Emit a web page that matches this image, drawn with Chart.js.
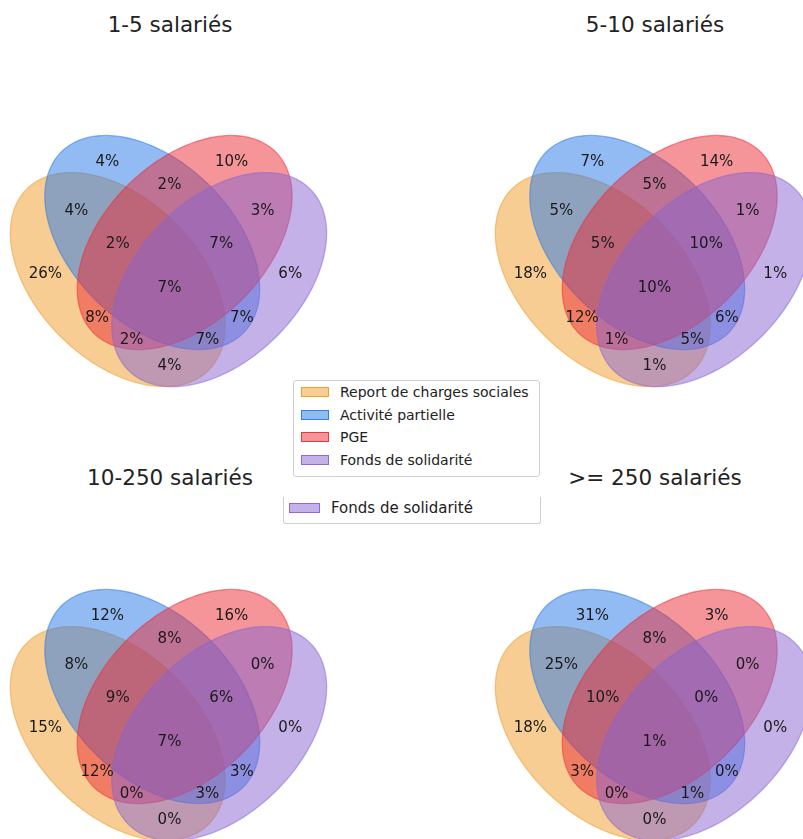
<!DOCTYPE html>
<html>
<head>
<meta charset="utf-8">
<script src="https://cdn.jsdelivr.net/npm/chart.js@4"></script>
<style>
  body { margin: 0; width: 803px; height: 839px; overflow: hidden; background: #fff; position: relative; font-family: "DejaVu Sans", sans-serif; }
  canvas { position: absolute; }
  .title { position: absolute; width: 300px; text-align: center; font-size: 21.5px; color: #222; line-height: 24px; }
  .legend { position: absolute; background: #fff; border: 1px solid #d0d0d0; border-radius: 3px; font-size: 14px; color: #222; }
  .legend .row { position: absolute; left: 0; height: 20px; line-height: 20px; white-space: nowrap; }
  .legend .patch { position: absolute; top: 5px; width: 26px; height: 8px; border: 1px solid; }
  .legend .lbl { position: absolute; top: 0; }
</style>
</head>
<body>
<canvas id="c1" width="345" height="371" style="left:-3px;top:57px"></canvas>
<canvas id="c2" width="345" height="371" style="left:482px;top:57px"></canvas>
<canvas id="c3" width="345" height="371" style="left:-3px;top:511px"></canvas>
<canvas id="c4" width="345" height="371" style="left:482px;top:511px"></canvas>

<div class="title" style="left:20px;top:13px">1-5 salariés</div>
<div class="title" style="left:505px;top:13px">5-10 salariés</div>
<div class="title" style="left:20px;top:466px">10-250 salariés</div>
<div class="title" style="left:505px;top:466px">&gt;= 250 salariés</div>

<div class="legend" id="legend2" style="left:283px;top:497px;width:256px;height:26px;border-top:none;border-radius:0 0 3px 3px;font-size:15px"></div>
<div class="legend" id="legend1" style="left:293px;top:380px;width:245px;height:95px"></div>

<script>
// set names and region order (bits: orange, blue, red, purple)
const setNames = ["Report de charges sociales", "Activité partielle", "PGE", "Fonds de solidarité"];
const regions = ["1000", "0100", "0010", "0001", "1100", "1010", "1001", "0110", "0101", "0011", "1110", "1101", "1011", "0111", "1111"];

const titles = ["1-5 salariés", "5-10 salariés", "10-250 salariés", ">= 250 salariés"];

// percentages per region, same order as regions
const values1to5 = [26, 4, 10, 6, 4, 8, 4, 2, 7, 3, 2, 7, 2, 7, 7];
const values5to10 = [18, 7, 14, 1, 5, 12, 1, 5, 6, 1, 5, 5, 1, 10, 10];
const values10to250 = [15, 12, 16, 0, 8, 12, 0, 8, 3, 0, 9, 3, 0, 6, 7];
const values250plus = [18, 31, 3, 0, 25, 3, 0, 8, 0, 0, 10, 1, 0, 0, 1];

// layout of the 4-set venn (axes units 0..1)
const labelPos = {
    "0001": [0.85, 0.42], "0010": [0.68, 0.72], "0011": [0.77, 0.59], "0100": [0.32, 0.72],
    "0101": [0.71, 0.30], "0110": [0.50, 0.66], "0111": [0.65, 0.50], "1000": [0.14, 0.42],
    "1001": [0.50, 0.17], "1010": [0.29, 0.30], "1011": [0.39, 0.24], "1100": [0.23, 0.59],
    "1101": [0.61, 0.24], "1110": [0.35, 0.50], "1111": [0.50, 0.38]
};
const ellipses = [
    { x: 0.350, y: 0.400, w: 0.72, h: 0.45, a: 140 },
    { x: 0.450, y: 0.500, w: 0.72, h: 0.45, a: 140 },
    { x: 0.544, y: 0.500, w: 0.72, h: 0.45, a: 40 },
    { x: 0.644, y: 0.400, w: 0.72, h: 0.45, a: 40 }
];
const colors = ["rgba(240,155,40,0.5)", "rgba(40,120,232,0.5)", "rgba(236,44,54,0.5)", "rgba(136,100,210,0.5)"];

const vennPlugin = {
    id: "venn",
    beforeDatasetsDraw(chart) {
        const ctx = chart.ctx;
        const xs = chart.scales.x, ys = chart.scales.y;
        ellipses.forEach((e, i) => {
            const rad = e.a * Math.PI / 180;
            ctx.save();
            ctx.beginPath();
            for (let k = 0; k <= 200; k++) {
                const t = k / 200 * 2 * Math.PI;
                const u = e.w / 2 * Math.cos(t), v = e.h / 2 * Math.sin(t);
                const dx = e.x + u * Math.cos(rad) - v * Math.sin(rad);
                const dy = e.y + u * Math.sin(rad) + v * Math.cos(rad);
                const px = xs.getPixelForValue(dx), py = ys.getPixelForValue(dy);
                if (k === 0) ctx.moveTo(px, py); else ctx.lineTo(px, py);
            }
            ctx.closePath();
            ctx.fillStyle = colors[i];
            ctx.fill();
            ctx.strokeStyle = colors[i];
            ctx.lineWidth = 1.3;
            ctx.stroke();
            ctx.restore();
        });
    },
    afterDatasetsDraw(chart) {
        const ctx = chart.ctx;
        const meta = chart.getDatasetMeta(0);
        const vals = chart.data.datasets[0].data;
        ctx.save();
        ctx.fillStyle = "#1a1a1a";
        ctx.font = "15px 'DejaVu Sans'";
        ctx.textAlign = "center";
        ctx.textBaseline = "middle";
        meta.data.forEach((pt, i) => {
            ctx.fillText(vals[i].v + "%", pt.x, pt.y + 1.5);
        });
        ctx.restore();
    }
};

function makeVenn(id, values) {
    new Chart(document.getElementById(id), {
        type: "scatter",
        data: {
            datasets: [{
                data: regions.map((r, i) => ({ x: labelPos[r][0], y: labelPos[r][1], v: values[i] })),
                pointRadius: 0
            }]
        },
        options: {
            responsive: false,
            animation: false,
            layout: { padding: 0 },
            plugins: { legend: { display: false }, tooltip: { enabled: false } },
            scales: {
                x: { type: "linear", min: 0, max: 1, display: false },
                y: { type: "linear", min: 0, max: 1, display: false }
            }
        },
        plugins: [vennPlugin]
    });
}

makeVenn("c1", values1to5);
makeVenn("c2", values5to10);
makeVenn("c3", values10to250);
makeVenn("c4", values250plus);

// legends
const legend1 = document.getElementById("legend1");
setNames.forEach((name, i) => {
    const row = document.createElement("div");
    row.className = "row";
    row.style.top = (1 + i * 22.5) + "px";
    row.innerHTML = `<span class="patch" style="left:7px;background:${colors[i]};border-color:${colors[i].replace("0.5)", "0.9)")}"></span><span class="lbl" style="left:46px">${name}</span>`;
    legend1.appendChild(row);
});
const legend2 = document.getElementById("legend2");
const row2 = document.createElement("div");
row2.className = "row";
row2.style.top = "1px";
row2.innerHTML = `<span class="patch" style="left:5px;width:29px;background:${colors[3]};border-color:${colors[3].replace("0.5)", "0.9)")}"></span><span class="lbl" style="left:47px">${setNames[3]}</span>`;
legend2.appendChild(row2);
</script>
</body>
</html>
